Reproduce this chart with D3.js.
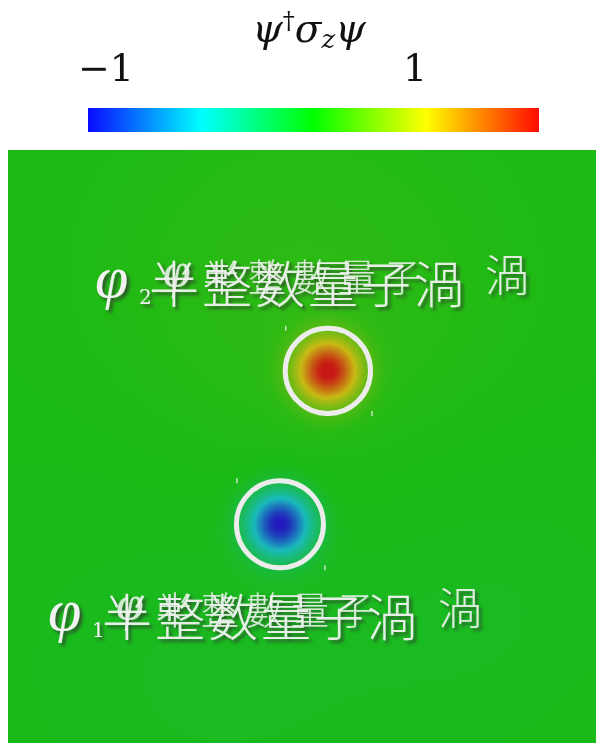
<!DOCTYPE html>
<html><head><meta charset="utf-8">
<script src="https://cdn.jsdelivr.net/npm/d3@7"></script>
<style>
body{margin:0;background:#fff;}
#wrap{position:relative;width:596px;height:743px;overflow:hidden;background:#fff}
#wrap canvas,#wrap svg{position:absolute;left:0;top:0}
</style>
</head><body><div id="wrap"></div>
<script>
// ---------- data ----------
const colorStops = [-1, -0.5, 0, 0.5, 1];
const colorValues = ["#0a0aff", "#00ffff", "#00ff00", "#ffff00", "#ff0a00"];
const tickValues = [-1, 1];
const tickLabels = ["−1", "1"];
// vortices (data coords, x,y in [-1,1])
const vortexSubscripts = ["2", "1"];
const vortexX = [0.088, -0.075];
const vortexY = [0.255, -0.262];
const vortexSign = [1, -1];
const vortexCore = [0.074, 0.074];
const circleRadius = [0.145, 0.148];
const labelX = [-0.697, -0.857];
const labelY = [0.484, -0.638];
const labelTextA = "半整数量子渦";
const labelCharsB = ["半", "整", "數", "量", "子"];
const labelTextB2 = "渦";
// broad background texture
const bgX = [0.0, -0.3, 0.7];
const bgY = [0.45, -0.7, -0.5];
const bgAmp = [0.06, -0.04, -0.03];
const bgWidth = [0.5, 0.6, 0.4];

// ---------- layout ----------
const W = 596, H = 743;
const map = {x0: 8, x1: 596, y0: 150, y1: 743};
const xs = d3.scaleLinear().domain([-1, 1]).range([map.x0, map.x1]);
const ys = d3.scaleLinear().domain([-1, 1]).range([map.y1, map.y0]);
const color = d3.scaleLinear().domain(colorStops).range(colorValues).clamp(true);

const wrap = d3.select("#wrap");

// heatmap canvas
const cw = map.x1 - map.x0, ch = map.y1 - map.y0;
const canvas = wrap.append("canvas").attr("width", cw).attr("height", ch)
  .style("left", map.x0 + "px").style("top", map.y0 + "px");
const ctx = canvas.node().getContext("2d");
const img = ctx.createImageData(cw, ch);
const N = 1024;
const lut = d3.range(N).map(i => {
  const c = d3.rgb(color(-1 + 2 * i / (N - 1)));
  return [26 + c.r * 0.68, 18 + c.g * 0.66, 20 + c.b * 0.66];
});
function field(x, y) {
  let v = 0;
  for (let k = 0; k < vortexX.length; k++) {
    const dx = x - vortexX[k], dy = y - vortexY[k];
    v += vortexSign[k] * Math.exp(-(dx * dx + dy * dy) / (2 * vortexCore[k] * vortexCore[k]));
  }
  for (let k = 0; k < bgX.length; k++) {
    const dx = x - bgX[k], dy = y - bgY[k];
    v += bgAmp[k] * Math.exp(-(dx * dx + dy * dy) / (2 * bgWidth[k] * bgWidth[k]));
  }
  return v;
}
for (let j = 0; j < ch; j++) {
  const y = ys.invert(map.y0 + j + 0.5);
  for (let i = 0; i < cw; i++) {
    const x = xs.invert(map.x0 + i + 0.5);
    const v = Math.max(-1, Math.min(1, field(x, y)));
    const c = lut[Math.round((v + 1) / 2 * (N - 1))];
    const p = (j * cw + i) * 4;
    img.data[p] = c[0]; img.data[p + 1] = c[1]; img.data[p + 2] = c[2]; img.data[p + 3] = 255;
  }
}
ctx.putImageData(img, 0, 0);

// svg overlay
const svg = wrap.append("svg").attr("width", W).attr("height", H);
const defs = svg.append("defs");
const grad = defs.append("linearGradient").attr("id", "cb");
colorStops.forEach((s, i) => grad.append("stop")
  .attr("offset", (i / (colorStops.length - 1) * 100) + "%").attr("stop-color", colorValues[i]));
const f = defs.append("filter").attr("id", "sh").attr("x", "-10%").attr("y", "-30%").attr("width", "130%").attr("height", "170%");
f.append("feDropShadow").attr("dx", 3).attr("dy", 3).attr("stdDeviation", 1.8)
  .attr("flood-color", "#333").attr("flood-opacity", 0.7);

// colorbar
const cb = {x: 88, y: 108, w: 451, h: 24};
svg.append("rect").attr("x", cb.x).attr("y", cb.y).attr("width", cb.w).attr("height", cb.h).attr("fill", "url(#cb)");
const tickScale = d3.scaleLinear().domain([-1, 1]).range([106, 415]);
svg.selectAll("text.tick").data(tickValues).join("text").attr("class", "tick")
  .attr("x", d => tickScale(d)).attr("y", 81).attr("text-anchor", "middle")
  .attr("font-family", "DejaVu Serif, serif").attr("font-size", 38)
  .attr("fill", "#111").text((d, i) => tickLabels[i]);
const title = svg.append("text").attr("x", 309).attr("y", 42).attr("text-anchor", "middle")
  .attr("font-family", "DejaVu Serif, serif").attr("font-size", 39).attr("fill", "#111");
title.append("tspan").attr("font-style", "italic").text("ψ");
title.append("tspan").attr("dy", -13).attr("font-size", 24).text("†");
title.append("tspan").attr("dy", 13).attr("font-style", "italic").text("σ");
title.append("tspan").attr("dy", 6).attr("font-size", 26).attr("font-style", "italic").text("z");
title.append("tspan").attr("dy", -6).attr("font-style", "italic").text("ψ");

// circles
svg.selectAll("circle.v").data(vortexX).join("circle").attr("class", "v")
  .attr("cx", (d, i) => xs(vortexX[i])).attr("cy", (d, i) => ys(vortexY[i]))
  .attr("r", (d, i) => xs(circleRadius[i]) - xs(0))
  .attr("fill", "none").attr("stroke", "#ececec").attr("stroke-width", 5);
// small corner marks
vortexX.forEach((d, i) => {
  const cx = xs(vortexX[i]), cy = ys(vortexY[i]), r = xs(circleRadius[i]) - xs(0) + 0.5;
  [[-r + 1, -r - 2], [r + 1, r - 3]].forEach(([dx, dy]) => {
    svg.append("line").attr("x1", cx + dx).attr("x2", cx + dx).attr("y1", cy + dy).attr("y2", cy + dy + 5)
      .attr("stroke", "#eee").attr("stroke-width", 1.2);
  });
});

// labels
const cjkA = "Noto Sans CJK JP, sans-serif", cjkB = "Noto Sans CJK TC, sans-serif";
const phi = "\u03C6";
const phiFont = "Liberation Serif, serif";
vortexX.forEach((d, i) => {
  const g = svg.append("g").attr("transform", `translate(${xs(labelX[i])},${ys(labelY[i])})`)
    .attr("fill", "#f2f2f2").attr("filter", "url(#sh)");
  // layer A
  g.append("text").attr("x", -2).attr("y", -6).attr("font-family", phiFont)
    .attr("font-style", "italic").attr("font-size", 60).text(phi);
  g.append("text").attr("x", 42).attr("y", 1).attr("font-family", "DejaVu Serif, serif")
    .attr("font-size", 20).text(vortexSubscripts[i]);
  g.append("text").attr("x", 52).attr("y", 0).attr("font-family", cjkA).attr("font-weight", 300)
    .attr("font-size", 50).attr("letter-spacing", 3).attr("opacity", 0.95).text(labelTextA);
  // layer B
  g.append("text").attr("x", 66).attr("y", -16).attr("font-family", phiFont)
    .attr("font-style", "italic").attr("font-size", 50).attr("opacity", 0.85).text(phi);
  g.append("text").attr("y", -12).attr("font-family", cjkB).attr("font-weight", 300)
    .attr("font-size", 38).attr("opacity", 0.85)
    .selectAll("tspan").data(labelCharsB).join("tspan")
    .attr("x", (c, k) => 106 + k * 45).text(c => c);
  g.append("text").attr("x", 388).attr("y", -11).attr("font-family", cjkB).attr("font-weight", 300)
    .attr("font-size", 44).attr("opacity", 0.9).text(labelTextB2);
});
</script>
</body></html>
